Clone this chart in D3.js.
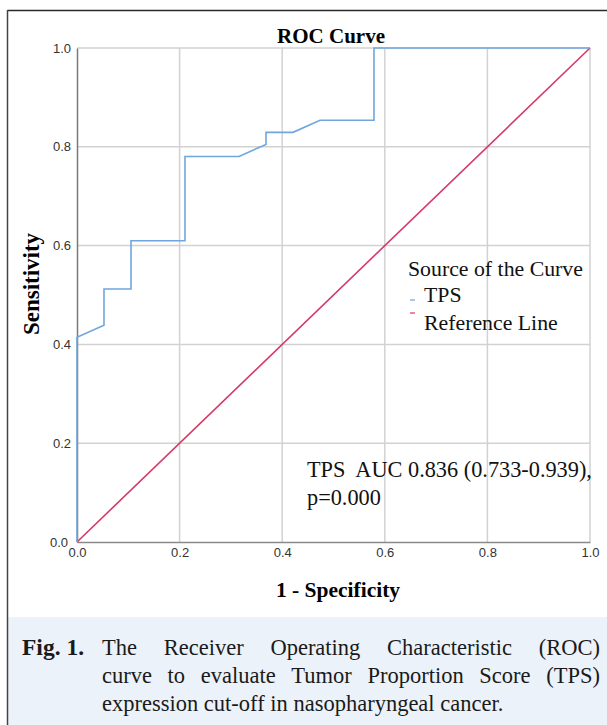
<!DOCTYPE html>
<html>
<head>
<meta charset="utf-8">
<script src="https://cdn.jsdelivr.net/npm/d3@7/dist/d3.min.js"></script>
<style>
  html, body { margin: 0; padding: 0; background: #fff; }
  svg { display: block; }
</style>
</head>
<body>
<svg id="chart" width="607" height="725"></svg>
<script>
// ---- data ----
const fpr = [0, 0, 0.0526, 0.0526, 0.1053, 0.1053, 0.2105, 0.2105, 0.3158, 0.3684, 0.3684, 0.4211, 0.4737, 0.5789, 0.5789, 1];
const tpr = [0, 0.4146, 0.4390, 0.5122, 0.5122, 0.6098, 0.6098, 0.7805, 0.7805, 0.8049, 0.8293, 0.8293, 0.8537, 0.8537, 1, 1];
const refX = [0, 1];
const refY = [0, 1];
const tickValues = [0, 0.2, 0.4, 0.6, 0.8, 1.0];
const tickLabels = ["0.0", "0.2", "0.4", "0.6", "0.8", "1.0"];
const legendTitle = "Source of the Curve";
const seriesNames = ["TPS", "Reference Line"];
const seriesColors = ["#6fa6de", "#d53a68"];
const annotation = ["TPS  AUC 0.836 (0.733-0.939),", "p=0.000"];
const captionLabel = "Fig. 1.";
const captionLines = [
  "The Receiver Operating Characteristic (ROC)",
  "curve to evaluate Tumor Proportion Score (TPS)",
  "expression cut-off in nasopharyngeal cancer."
];

const svg = d3.select("#chart");
const serif = "'Liberation Serif', 'Times New Roman', serif";
const sans = "'Liberation Sans', Arial, sans-serif";

// frame
svg.append("rect").attr("x", 8).attr("y", 617).attr("width", 599).attr("height", 108).attr("fill", "#ecf2f9");
svg.append("line").attr("x1", 7.5).attr("x2", 607).attr("y1", 10.5).attr("y2", 10.5).attr("stroke", "#2a2a2a").attr("stroke-width", 1.5);
svg.append("line").attr("x1", 7.5).attr("x2", 7.5).attr("y1", 10).attr("y2", 725).attr("stroke", "#444").attr("stroke-width", 1.5);

const x = d3.scaleLinear().domain([0, 1]).range([77, 590]);
const y = d3.scaleLinear().domain([0, 1]).range([542, 48]);

// gridlines
const g = svg.append("g");
g.selectAll("line.vg").data(tickValues.slice(1)).join("line")
  .attr("x1", d => x(d)).attr("x2", d => x(d)).attr("y1", y(0)).attr("y2", y(1))
  .attr("stroke", "#d2d2d2").attr("stroke-width", 1.5);
g.selectAll("line.hg").data(tickValues.slice(1)).join("line")
  .attr("x1", x(0)).attr("x2", x(1)).attr("y1", d => y(d)).attr("y2", d => y(d))
  .attr("stroke", "#d2d2d2").attr("stroke-width", 1.5);

// axes
const fmt = d => tickLabels[tickValues.indexOf(d)];
const xAxis = svg.append("g").attr("transform", `translate(0,${y(0)})`)
  .call(d3.axisBottom(x).tickValues(tickValues).tickFormat(fmt).tickSize(0).tickPadding(6));
const yAxis = svg.append("g").attr("transform", `translate(${x(0)},0)`)
  .call(d3.axisLeft(y).tickValues(tickValues).tickFormat(fmt).tickSize(0).tickPadding(6));
[xAxis, yAxis].forEach(a => {
  a.selectAll("text").attr("font-family", sans).attr("font-size", 13).attr("fill", "#333");
});
xAxis.select(".domain").attr("stroke", "#8a8a8a").attr("stroke-width", 1.5);
yAxis.select(".domain").attr("stroke", "#7a7a7a").attr("stroke-width", 1.5);
yAxis.selectAll(".tick").filter(d => d === 0).select("text").attr("dx", -3);

// reference line
const line = d3.line().x(d => x(d[0])).y(d => y(d[1]));
svg.append("path").datum(refX.map((v, i) => [v, refY[i]]))
  .attr("d", line).attr("fill", "none").attr("stroke", seriesColors[1]).attr("stroke-width", 1.6);
// ROC curve
svg.append("path").datum(fpr.map((v, i) => [v, tpr[i]]))
  .attr("d", line).attr("fill", "none").attr("stroke", seriesColors[0]).attr("stroke-width", 1.6);

// titles
svg.append("text").attr("x", 331).attr("y", 43).attr("text-anchor", "middle")
  .attr("font-family", serif).attr("font-weight", "bold").attr("font-size", 21).text("ROC Curve");
svg.append("text").attr("x", 338).attr("y", 597).attr("text-anchor", "middle")
  .attr("font-family", serif).attr("font-weight", "bold").attr("font-size", 21.5).text("1 - Specificity");
svg.append("text").attr("transform", "translate(39,284) rotate(-90)").attr("text-anchor", "middle")
  .attr("font-family", serif).attr("font-weight", "bold").attr("font-size", 23).text("Sensitivity");

// legend
svg.append("text").attr("x", 408).attr("y", 276).attr("font-family", serif).attr("font-size", 21.8).attr("fill", "#111").text(legendTitle);
const legY = [302, 330];
const dashY = [300, 313];
seriesNames.forEach((n, i) => {
  svg.append("line").attr("x1", 410).attr("x2", 415).attr("y1", dashY[i]).attr("y2", dashY[i])
    .attr("stroke", seriesColors[i]).attr("stroke-width", 1.2);
  svg.append("text").attr("x", 424).attr("y", legY[i]).attr("font-family", serif).attr("font-size", 21.8).attr("fill", "#111").text(n);
});

// annotation
annotation.forEach((t, i) => {
  svg.append("text").attr("x", 307).attr("y", 477 + i * 28).attr("font-family", serif).attr("font-size", 22.3)
    .attr("fill", "#111").style("white-space", "pre").text(t);
});

// caption
const capSize = 22.5;
svg.append("text").attr("x", 22).attr("y", 655).attr("font-family", serif).attr("font-weight", "bold")
  .attr("font-size", 23.5).attr("fill", "#1a1a1a").text(captionLabel);
captionLines.forEach((t, i) => {
  const ty = 655 + i * 28;
  if (i < captionLines.length - 1) {
    // justified lines
    const words = t.split(" ");
    const tmp = svg.append("g");
    const widths = words.map(w => {
      const e = tmp.append("text").attr("font-family", serif).attr("font-size", capSize).text(w);
      return e.node().getComputedTextLength();
    });
    tmp.remove();
    const total = d3.sum(widths);
    const gap = (600 - 102 - total) / (words.length - 1);
    let cx = 102;
    words.forEach((w, j) => {
      svg.append("text").attr("x", cx).attr("y", ty).attr("font-family", serif).attr("font-size", capSize)
        .attr("fill", "#1a1a1a").text(w);
      cx += widths[j] + gap;
    });
  } else {
    svg.append("text").attr("x", 102).attr("y", ty).attr("font-family", serif).attr("font-size", capSize)
      .attr("fill", "#1a1a1a").text(t);
  }
});
</script>
</body>
</html>
